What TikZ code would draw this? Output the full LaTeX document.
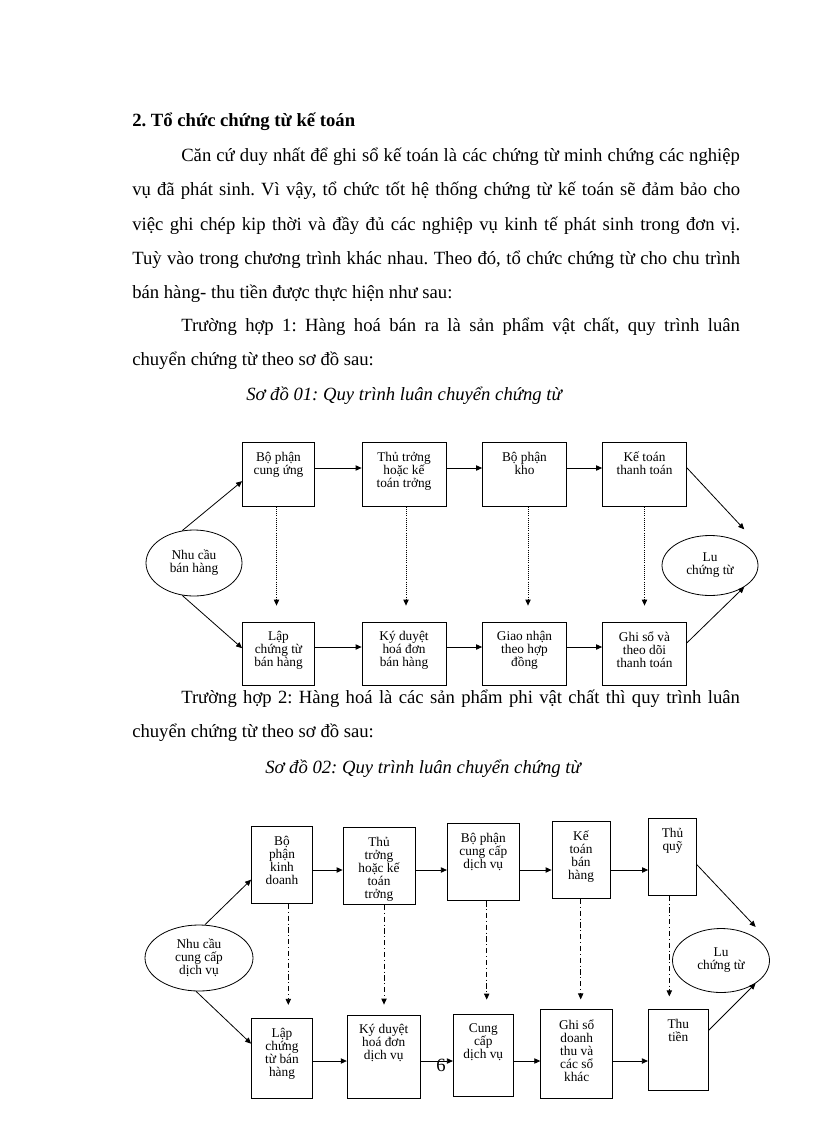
\documentclass[tikz,border=0pt]{standalone}
\usepackage{fontspec}
\setmainfont{Liberation Serif}
\frenchspacing
\usetikzlibrary{arrows.meta,shapes.geometric}
\tikzset{
  >={Triangle[length=4.5pt,width=4pt]},
  sz/.style 2 args={minimum width=#1*0.75pt, minimum height=#2*0.75pt},
  box/.style={draw, rectangle, line width=0.6pt, inner sep=0pt},
  oval/.style={draw, ellipse, line width=0.6pt, inner sep=0pt, align=center, font=\fontsize{10}{9.75}\selectfont},
  boxtext/.style={anchor=north, align=center, inner sep=0pt, yshift=-7.3pt, font=\fontsize{10}{9.75}\selectfont, execute at begin node={\rule{0pt}{10pt}}},
  flow/.style={->, line width=0.6pt},
  dotflow/.style={->, densely dotted, line width=0.6pt, shorten >=12pt},
  dashflow/.style={->, line width=0.6pt, dash pattern=on 4pt off 2pt on 0.8pt off 2pt},
  bodytext/.style={anchor=base west, inner sep=0pt, font=\fontsize{14}{16}\selectfont},
}
\begin{document}
\begin{tikzpicture}[x=0.75pt, y=-0.75pt]
\useasboundingbox[fill=white] (0,0) rectangle (816,1123);

% text above the diagrams
\node[bodytext, font=\fontsize{14}{16}\selectfont\bfseries] (head) at (132,126.7) {2. Tổ chức chứng từ kế toán};
\node[bodytext] (t1) at (181,161.7) {\makebox[419pt][s]{Căn cứ duy nhất để ghi sổ kế toán là các chứng từ minh chứng các nghiệp}};
\node[bodytext] (t2) at (132,195.7) {\makebox[456pt][s]{vụ đã phát sinh. Vì vậy, tổ chức tốt hệ thống chứng từ kế toán sẽ đảm bảo cho}};
\node[bodytext] (t3) at (132,230) {\makebox[456pt][s]{việc ghi chép kip thời và đầy đủ các nghiệp vụ kinh tế phát sinh trong đơn vị.}};
\node[bodytext] (t4) at (132,264.3) {\makebox[456pt][s]{Tuỳ vào trong chương trình khác nhau. Theo đó, tổ chức chứng từ cho chu trình}};
\node[bodytext] (t5) at (132,298.3) {bán hàng- thu tiền được thực hiện như sau:};
\node[bodytext] (t6) at (181,331.7) {\makebox[419pt][s]{Trường hợp 1: Hàng hoá bán ra là sản phẩm vật chất, quy trình luân}};
\node[bodytext] (t7) at (132,365) {chuyển chứng từ theo sơ đồ sau:};
\node[bodytext, font=\fontsize{14}{16}\selectfont\itshape] (cap1) at (246,400) {Sơ đồ 01: Quy trình luân chuyển chứng từ};

% so do 01
\node[box, sz={72}{64}, label={[boxtext]north:{Bộ phận\\cung ứng}}] (u1) at (278.5,474.5) {};
\node[box, sz={84}{64}, label={[boxtext]north:{Thủ trởng\\hoặc kế\\toán trởng}}] (u2) at (404,474.5) {};
\node[box, sz={84}{64}, label={[boxtext]north:{Bộ phận\\kho}}] (u3) at (524.5,474.5) {};
\node[box, sz={84}{64}, label={[boxtext]north:{Kế toán\\thanh toán}}] (u4) at (644.5,474.5) {};
\node[box, sz={72}{63}, label={[boxtext]north:{Lập\\chứng từ\\bán hàng}}] (l1) at (278.5,653.5) {};
\node[box, sz={84}{63}, label={[boxtext]north:{Ký duyệt\\hoá đơn\\bán hàng}}] (l2) at (404,653.5) {};
\node[box, sz={84}{63}, label={[boxtext]north:{Giao nhận\\theo hợp\\đồng}}] (l3) at (524.5,653.5) {};
\node[box, sz={84}{63}, label={[boxtext]north:{Ghi sổ và\\theo dõi\\thanh toán}}] (l4) at (644.5,653.5) {};
\node[oval, sz={96}{66}] (e1) at (194,563) {Nhu cầu\\bán hàng};
\node[oval, sz={96}{60}] (e2) at (710,565.5) {Lu\\chứng từ};

\coordinate (r1) at (0,468);
\coordinate (r2) at (0,647);
\foreach \a/\b in {u1/u2,u2/u3,u3/u4}
  \draw[flow] (\a.east |- r1) -- (\b.west |- r1);
\foreach \a/\b in {l1/l2,l2/l3,l3/l4}
  \draw[flow] (\a.east |- r2) -- (\b.west |- r2);
\foreach \a/\b/\dx in {u1/l1/-2,u2/l2/2,u3/l3/3.5,u4/l4/0}
  \draw[dotflow] ([xshift=\dx*0.75pt]\a.south) -- ([xshift=\dx*0.75pt]\a.south |- \b.north);
\draw[flow] (e1.110) -- ([yshift=-5pt]u1.west);
\draw[flow] (e1.250) -- ([yshift=4pt]l1.west);
\draw[flow] ([yshift=5pt]u4.east) -- ([yshift=11pt]e2.north east);
\draw[flow] ([yshift=8pt]l4.east) -- (e2.south east);

% text between the diagrams
\node[bodytext] (t8) at (181,703) {\makebox[419pt][s]{Trường hợp 2: Hàng hoá là các sản phẩm phi vật chất thì quy trình luân}};
\node[bodytext] (t9) at (132,737.7) {chuyển chứng từ theo sơ đồ sau:};
\node[bodytext, font=\fontsize{14}{16}\selectfont\itshape] (cap2) at (265,773) {Sơ đồ 02: Quy trình luân chuyển chứng từ};

% so do 02
\node[box, sz={61}{77}, label={[boxtext]north:{Bộ\\phận\\kinh\\doanh}}] (A) at (282,865) {};
\node[box, sz={72}{77}, label={[boxtext]north:{Thủ\\trởng\\hoặc kế\\toán\\trởng}}] (B) at (379,866) {};
\node[box, sz={72}{77}, label={[boxtext]north:{Bộ phận\\cung cấp\\dịch vụ}}] (C) at (483.3,862.3) {};
\node[box, sz={58}{77}, label={[boxtext]north:{Kế\\toán\\bán\\hàng}}] (D) at (581,860) {};
\node[box, sz={48}{77}, label={[boxtext]north:{Thủ\\quỹ}}] (E) at (672.5,856.7) {};
\node[box, sz={61}{80}, label={[boxtext]north:{Lập\\chứng\\từ bán\\hàng}}] (F) at (282,1058.3) {};
\node[box, sz={73}{83}, label={[boxtext]north:{Ký duyệt\\hoá đơn\\dịch vụ}}] (G) at (383.7,1056.5) {};
\node[box, sz={60}{82}, label={[boxtext]north:{Cung\\cấp\\dịch vụ}}] (H) at (483.3,1055) {};
\node[box, sz={72}{89}, label={[boxtext]north:{Ghi sổ\\doanh\\thu và\\các sổ\\khác}}] (I) at (576.7,1054.3) {};
\node[box, sz={60}{81}, label={[boxtext]north:{Thu\\tiền}}] (J) at (678.3,1050.3) {};
\node[oval, sz={108}{66}] (e3) at (199,958) {Nhu cầu\\cung cấp\\dịch vụ};
\node[oval, sz={97}{64}] (e4) at (721,960.5) {Lu\\chứng từ};

\coordinate (r3) at (0,870);
\coordinate (r4) at (0,1061);
\foreach \a/\b in {A/B,B/C,C/D,D/E}
  \draw[flow] (\a.east |- r3) -- (\b.west |- r3);
\foreach \a/\b in {F/G,G/H,H/I,I/J}
  \draw[flow] (\a.east |- r4) -- (\b.west |- r4);
\foreach \a/\b/\dx/\gap in {A/F/6.3/13,B/G/5/10,C/H/3.4/14,D/I/-0.3/10,E/J/-3.2/13}
  \draw[dashflow, shorten >=\gap*0.75pt] ([xshift=\dx*0.75pt]\a.south) -- ([xshift=\dx*0.75pt]\a.south |- \b.north);
\draw[flow] (e3.80) -- ([yshift=-11pt]A.west);
\draw[flow] (e3.265) -- ([yshift=11pt]F.west);
\draw[flow] ([yshift=-6pt]E.east) -- ([yshift=8pt]e4.north east);
\draw[flow] ([yshift=15pt]J.east) -- (e4.south east);

\node[bodytext] (pg) at (436,1071) {6};
\end{tikzpicture}
\end{document}
